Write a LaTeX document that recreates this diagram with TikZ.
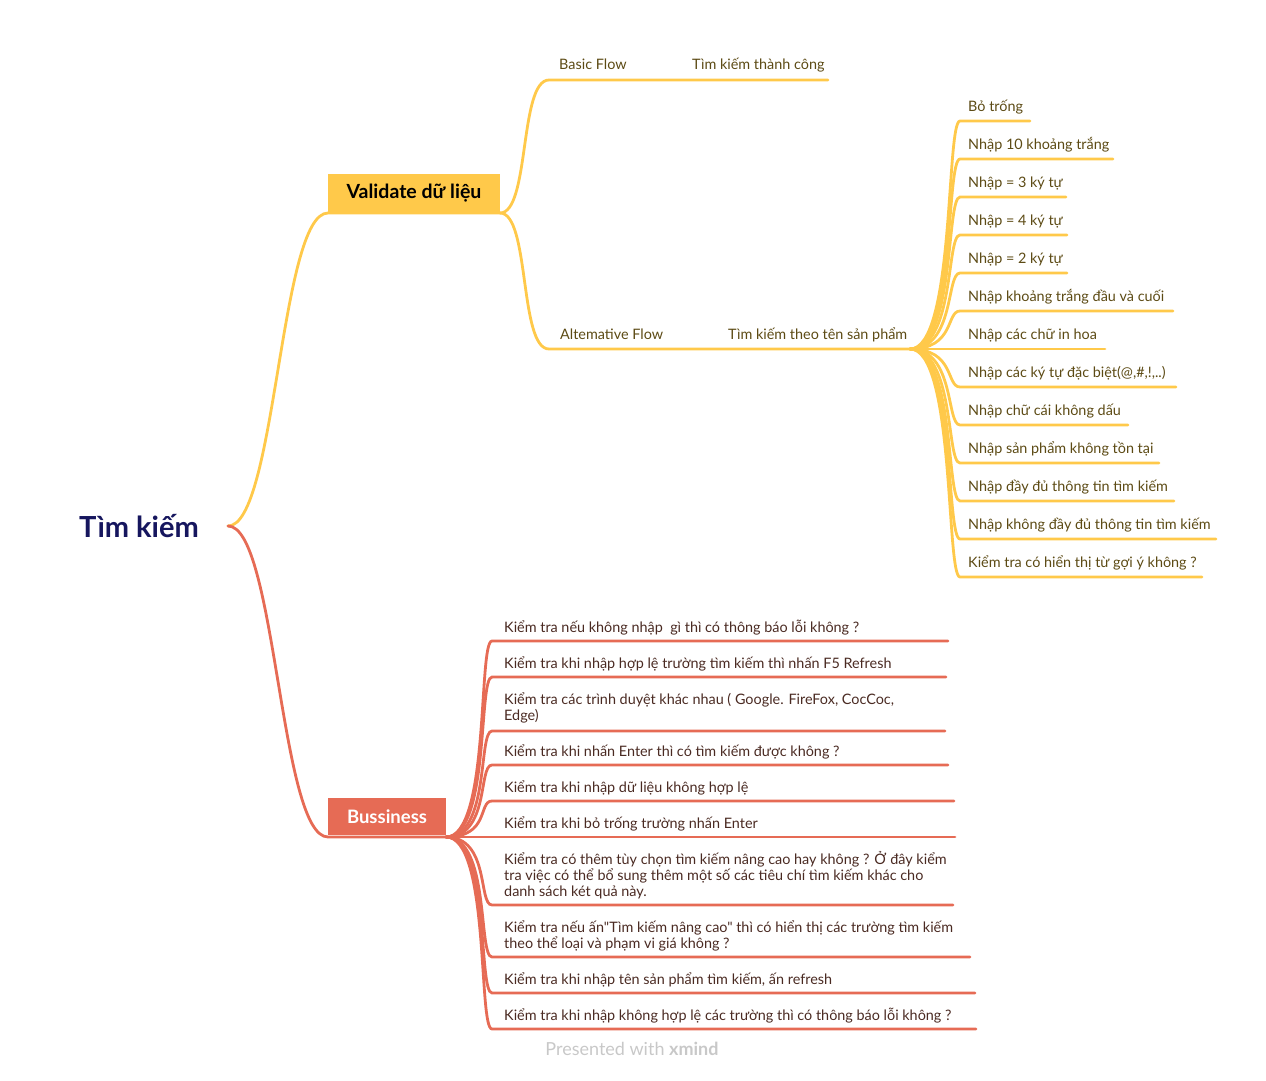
\documentclass[tikz,border=0pt]{standalone}
\usepackage{fontspec}
\setmainfont{Lato}
\newfontfamily\lato{Lato}
\definecolor{yel}{HTML}{FFC94A}
\definecolor{rbr}{HTML}{E66B55}
\definecolor{ytext}{HTML}{5C4A14}
\definecolor{rtext}{HTML}{4A2A22}
\definecolor{navy}{HTML}{16165E}
\definecolor{wm}{HTML}{C8C8C8}
\begin{document}
\begin{tikzpicture}[x=1pt,y=-1pt,
  ybr/.style={draw=yel,line width=2.8pt,line cap=round},
  rbrs/.style={draw=rbr,line width=2.8pt,line cap=round},
  ylab/.style={anchor=base west,inner sep=0pt,font=\lato\fontsize{14.4}{16}\selectfont,text=ytext},
  rlab/.style={anchor=base west,inner sep=0pt,font=\lato\fontsize{14.4}{16}\selectfont,text=rtext,align=left},
  mainbox/.style={minimum width=172pt,minimum height=38pt,inner sep=0pt,font=\lato\fontsize{19.5}{22}\selectfont\bfseries}]
\useasboundingbox (0,0) rectangle (1266,1081);

% root
\node[font=\lato\fontsize{29}{32}\selectfont\bfseries,text=navy,inner sep=0pt] (root) at (139,526) {Tìm kiếm};
\coordinate (root-r) at (228,526);

% main topics
\node[mainbox,fill=yel,text=black] (val) at (414,193) {Validate dữ liệu};
\coordinate (val-s) at (328,213);
\coordinate (val-e) at (500,213);
\node[mainbox,minimum width=118pt,minimum height=37pt,fill=rbr,text=white,font=\lato\fontsize{18.5}{22}\selectfont\bfseries] (bus) at (387,816.5) {Bussiness};
\coordinate (bus-s) at (328,837);
\coordinate (bus-e) at (446,837);

\draw[ybr] (root-r) .. controls +(48,0) and +(-48,0) .. (val-s) -- (val-e);
\draw[rbrs] (root-r) .. controls +(48,0) and +(-48,0) .. (bus-s) -- (bus-e);

% flows
\node[ylab] (basic) at (559,70) {Basic Flow};
\coordinate (basic-s) at (549,80);
\coordinate (basic-e) at (685,80);
\node[ylab] (succ) at (692,70) {Tìm kiếm thành công};
\coordinate (succ-e) at (828,80);
\draw[ybr] (val-e) .. controls +(30,0) and +(-30,0) .. (basic-s) -- (basic-e) -- (succ-e);

\node[ylab] (alt) at (560,339) {Altemative Flow};
\coordinate (alt-s) at (549,349);
\coordinate (alt-m) at (668,349);
\node[ylab] (name) at (728,339) {Tìm kiếm theo tên sản phẩm};
\coordinate (name-e) at (910,349);
\draw[ybr] (val-e) .. controls +(30,0) and +(-30,0) .. (alt-s) -- (alt-m) -- (name-e);

% yellow leaves
\foreach [count=\i] \y/\e/\t in {
  106/1030/{Bỏ trống},
  144/1113/{Nhập 10 khoảng trắng},
  182/1066/{Nhập = 3 ký tự},
  220/1067/{Nhập = 4 ký tự},
  258/1067/{Nhập = 2 ký tự},
  296/1173/{Nhập khoảng trắng đầu và cuối},
  334/1105/{Nhập các chữ in hoa},
  372/1176/{Nhập các ký tự đặc biệt(@,\#,!,..)},
  410/1128/{Nhập chữ cái không dấu},
  448/1159/{Nhập sản phẩm không tồn tại},
  486/1174/{Nhập đầy đủ thông tin tìm kiếm},
  524/1216/{Nhập không đầy đủ thông tin tìm kiếm},
  562/1202/{Kiểm tra có hiển thị từ gợi ý không ?}} {
  \node[ylab] (yl\i) at (968,\y+5) {\t};
  \coordinate (yl\i-s) at (960,\y+15);
  \coordinate (yl\i-e) at (\e,\y+15);
  \draw[ybr] (name-e) .. controls +(45,0) and +(-14,0) .. (yl\i-s) -- (yl\i-e);
}

% red leaves (\n = extra lines * 16)
\foreach [count=\i] \y/\n/\u/\e/\t in {
  627/0/641/948/{Kiểm tra nếu không nhập \ gì thì có thông báo lỗi không ?},
  663/0/677/946/{Kiểm tra khi nhập hợp lệ trường tìm kiếm thì nhấn F5 Refresh},
  699/16/731/945/{Kiểm tra các trình duyệt khác nhau ( Google. FireFox, CocCoc,\\Edge)},
  751/0/765/948/{Kiểm tra khi nhấn Enter thì có tìm kiếm được không ?},
  787/0/801/954/{Kiểm tra khi nhập dữ liệu không hợp lệ},
  823/0/837/955/{Kiểm tra khi bỏ trống trường nhấn Enter},
  859/32/905/953/{Kiểm tra có thêm tùy chọn tìm kiếm nâng cao hay không ? Ở đây kiểm\\tra việc có thể bổ sung thêm một số các tiêu chí tìm kiếm khác cho\\danh sách két quả này.},
  927/16/957/970/{Kiểm tra nếu ấn"Tìm kiếm nâng cao" thì có hiển thị các trường tìm kiếm\\theo thể loại và phạm vi giá không ?},
  979/0/993/975/{Kiểm tra khi nhập tên sản phẩm tìm kiếm, ấn refresh},
  1015/0/1029/976/{Kiểm tra khi nhập không hợp lệ các trường thì có thông báo lỗi không ?}} {
  \node[rlab] (rl\i) at (504,\y+\n+5) {\t};
  \coordinate (rl\i-s) at (492,\u);
  \coordinate (rl\i-e) at (\e,\u);
  \draw[rbrs] (bus-e) .. controls +(44,0) and +(-14,0) .. (rl\i-s) -- (rl\i-e);
}

% watermark
\node[font=\lato\fontsize{18}{20}\selectfont,text=wm,inner sep=0pt] (wmk) at (632,1049) {Presented with \textbf{xmind}};
\end{tikzpicture}
\end{document}
